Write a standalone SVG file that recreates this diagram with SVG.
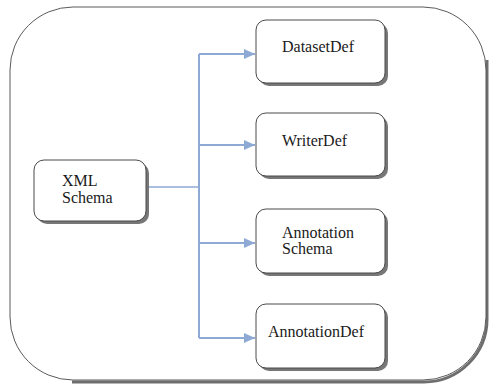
<svg xmlns="http://www.w3.org/2000/svg" width="489" height="386" viewBox="0 0 489 386">
  <defs>
    <style>
      .frame { fill: #ffffff; stroke: #5a5a5a; stroke-width: 1; }
      .frame-shadow { fill: none; stroke: #6e6e6e; stroke-width: 3; }
      .box { fill: #ffffff; stroke: #4a4a4a; stroke-width: 1; }
      .box-shadow { fill: #777777; }
      .caption { font-family: 'Liberation Serif', serif; font-size: 16px; fill: #1a1a1a; }
      .link { fill: none; stroke: #8eaad4; stroke-width: 2; }
      .link-thin { fill: none; stroke: #8eaad4; stroke-width: 1.5; }
    </style>
    <marker id="arrow" markerWidth="11" markerHeight="10" refX="11" refY="5" orient="auto" markerUnits="userSpaceOnUse">
      <path d="M0,0 L11,5 L0,10 Z" fill="#8eaad4"/>
    </marker>
  </defs>

  <!-- outer rounded frame with shadow on bottom/right -->
  <g id="frame">
    <path class="frame-shadow" d="M487,60 L487,319 A63,63 0 0 1 424,382 L72,382"/>
    <rect class="frame" x="10" y="7" width="476" height="373" rx="63" ry="63"/>
  </g>

  <!-- connectors -->
  <g id="connectors">
    <path class="link-thin" d="M146,187 L199,187"/>
    <path class="link" d="M199,54 L199,338"/>
    <path class="link" d="M199,54 L255,54" marker-end="url(#arrow)"/>
    <path class="link" d="M199,145 L255,145" marker-end="url(#arrow)"/>
    <path class="link" d="M199,243 L255,243" marker-end="url(#arrow)"/>
    <path class="link" d="M199,338 L255,338" marker-end="url(#arrow)"/>
  </g>

  <g id="xml-schema">
    <rect class="box-shadow" x="37" y="163" width="112" height="61" rx="10"/>
    <rect class="box" x="34" y="160" width="112" height="61" rx="10"/>
    <text class="caption" x="62" y="186">XML</text>
    <text class="caption" x="62" y="203">Schema</text>
  </g>

  <g id="dataset-def">
    <rect class="box-shadow" x="259" y="23" width="129" height="63" rx="10"/>
    <rect class="box" x="256" y="20" width="129" height="63" rx="10"/>
    <text class="caption" x="282" y="52">DatasetDef</text>
  </g>

  <g id="writer-def">
    <rect class="box-shadow" x="259" y="116" width="129" height="63" rx="10"/>
    <rect class="box" x="256" y="113" width="129" height="63" rx="10"/>
    <text class="caption" x="282" y="146">WriterDef</text>
  </g>

  <g id="annotation-schema">
    <rect class="box-shadow" x="259" y="212" width="129" height="64" rx="10"/>
    <rect class="box" x="256" y="209" width="129" height="64" rx="10"/>
    <text class="caption" x="282" y="238">Annotation</text>
    <text class="caption" x="282" y="254">Schema</text>
  </g>

  <g id="annotation-def">
    <rect class="box-shadow" x="259" y="307" width="129" height="64" rx="10"/>
    <rect class="box" x="256" y="304" width="129" height="64" rx="10"/>
    <text class="caption" x="268" y="337">AnnotationDef</text>
  </g>
</svg>
